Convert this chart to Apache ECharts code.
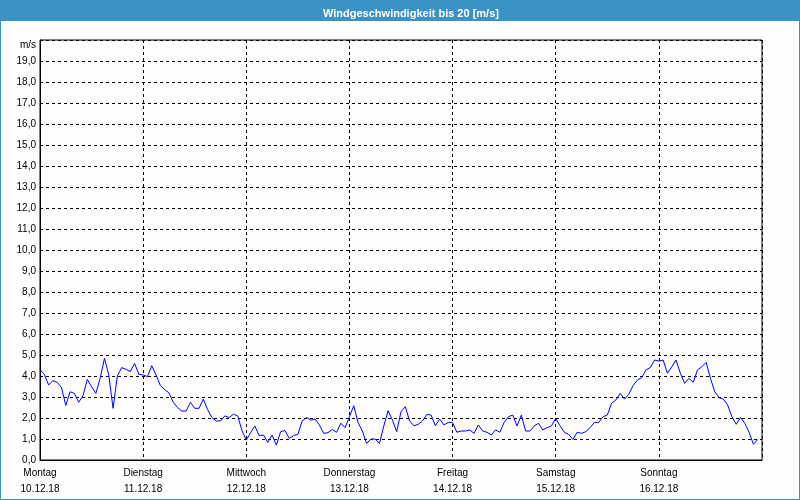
<!DOCTYPE html>
<html>
<head>
<meta charset="utf-8">
<script src="https://cdn.jsdelivr.net/npm/echarts@6/dist/echarts.min.js"></script>
<style>
html,body{margin:0;padding:0;background:#fcfdfc;}
#c{width:800px;height:500px;}
</style>
</head>
<body>
<div id="c"></div>
<script>
const chartTitle = 'Windgeschwindigkeit bis 20 [m/s]';
const unitLabel = 'm/s';
const dayNames = ['Montag','Dienstag','Mittwoch','Donnerstag','Freitag','Samstag','Sonntag'];
const dayDates = ['10.12.18','11.12.18','12.12.18','13.12.18','14.12.18','15.12.18','16.12.18'];
// hourly wind speed [m/s], starting Monday 10.12.18 00:00
const windSpeed = [
  4.3, 4.08, 3.57, 3.78, 3.7, 3.45, 2.6, 3.25, 3.17, 2.75, 3.06, 3.84,
  3.49, 3.17, 3.89, 4.84, 4.05, 2.46, 4.0, 4.4, 4.32, 4.21, 4.6, 4.08,
  4.05, 3.97, 4.49, 4.05, 3.55, 3.35, 3.2, 2.75, 2.5, 2.33, 2.33, 2.75,
  2.46, 2.46, 2.9, 2.4, 2.02, 1.86, 1.86, 2.1, 2.02, 2.18, 2.1, 1.4,
  0.95, 1.3, 1.62, 1.16, 1.19, 0.84, 1.19, 0.71, 1.35, 1.4, 1.03, 1.16,
  1.22, 1.86, 2.02, 1.9, 1.95, 1.67, 1.27, 1.3, 1.45, 1.32, 1.75, 1.54,
  2.06, 2.59, 1.79, 1.38, 0.79, 1.0, 1.0, 0.79, 1.62, 2.35, 1.9, 1.35,
  2.3, 2.54, 1.86, 1.63, 1.7, 1.86, 2.17, 2.14, 1.63, 1.95, 1.67, 1.79,
  1.79, 1.32, 1.38, 1.38, 1.43, 1.27, 1.67, 1.38, 1.32, 1.19, 1.43, 1.32,
  1.79, 2.06, 2.14, 1.62, 2.14, 1.38, 1.38, 1.62, 1.75, 1.43, 1.54, 1.62,
  1.98, 1.63, 1.32, 1.22, 0.98, 1.32, 1.27, 1.35, 1.54, 1.79, 1.79, 2.06,
  2.14, 2.7, 2.86, 3.17, 2.9, 3.13, 3.54, 3.81, 3.92, 4.29, 4.4, 4.76,
  4.71, 4.76, 4.13, 4.44, 4.76, 4.13, 3.65, 3.89, 3.7, 4.29, 4.44, 4.65,
  3.89, 3.25, 2.97, 2.9, 2.62, 2.06, 1.7, 2.03, 1.75, 1.32, 0.75, 0.97
];

const barColor = '#3c92c4';
const chart = echarts.init(document.getElementById('c'));
chart.setOption({
  backgroundColor: '#fcfdfc',
  animation: false,
  graphic: [
    { type: 'rect', z: 0, shape: { x: 0, y: 0, width: 800, height: 21 }, style: { fill: barColor } },
    { type: 'rect', z: 0, shape: { x: 0.5, y: 0.5, width: 799, height: 499 }, style: { fill: null, stroke: barColor, lineWidth: 1 } }
  ],
  title: {
    text: chartTitle, left: 318, top: 3, z: 10,
    textStyle: { color: '#ffffff', fontSize: 11, fontWeight: 'bold', fontFamily: 'Liberation Sans' }
  },
  grid: { left: 40, right: 38, top: 40, bottom: 40, show: true, borderColor: '#000', borderWidth: 1, backgroundColor: 'transparent' },
  xAxis: {
    type: 'value', min: 0, max: 168, interval: 24,
    axisLine: { show: true, lineStyle: { color: '#000', width: 1 } },
    axisTick: { show: false },
    splitLine: { show: true, lineStyle: { color: '#000', type: [3, 3], width: 1 } },
    axisLabel: {
      margin: 5, color: '#000', fontSize: 10, fontFamily: 'Liberation Sans', lineHeight: 16,
      formatter: function (v) { const i = Math.round(v / 24); return i < dayNames.length ? dayNames[i] + '\n' + dayDates[i] : ''; }
    }
  },
  yAxis: {
    type: 'value', min: 0, max: 20, interval: 1,
    name: unitLabel, nameLocation: 'end', nameGap: -5,
    nameTextStyle: { color: '#000', fontSize: 10, fontFamily: 'Liberation Sans', align: 'right', verticalAlign: 'middle', padding: [0, 4, 0, 0] },
    axisLine: { show: true, lineStyle: { color: '#000', width: 1 } },
    axisTick: { show: false },
    splitLine: { show: true, lineStyle: { color: '#000', type: [3, 3], width: 1 } },
    axisLabel: {
      margin: 4, color: '#000', fontSize: 10, fontFamily: 'Liberation Sans',
      formatter: function (v) { return v >= 20 ? '' : v.toFixed(1).replace('.', ','); }
    }
  },
  series: [{
    type: 'line', showSymbol: false, smooth: false,
    lineStyle: { color: '#0000ff', width: 1 },
    data: windSpeed.map(function (v, i) { return [i, v]; })
  }]
});
</script>
</body>
</html>
